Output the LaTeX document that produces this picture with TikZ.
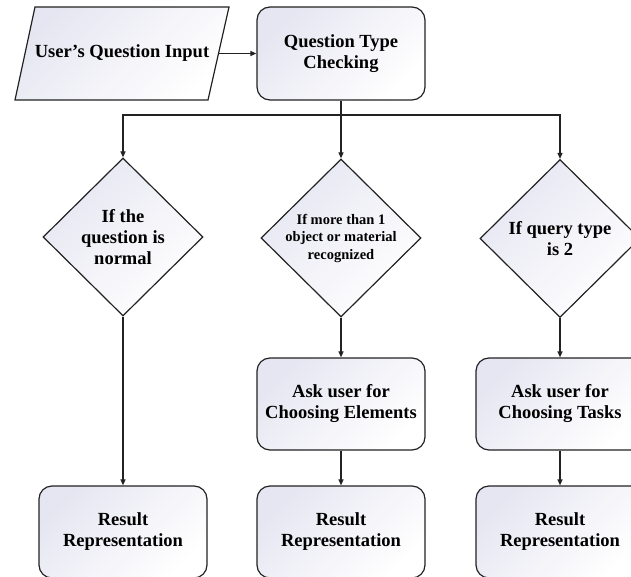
\documentclass[tikz,border=0pt]{standalone}
\usepackage{fontspec}
\setmainfont{Liberation Serif}
\usetikzlibrary{shapes.geometric,arrows.meta}
\definecolor{edgec}{HTML}{222222}
\definecolor{fillc}{HTML}{E6E6F2}
\begin{document}
\begin{tikzpicture}[x=1pt,y=-1pt,
  shapefill/.style={top color=fillc, bottom color=white, shading angle=45},
  box/.style={draw=edgec, line width=1.2pt, rounded corners=13pt, minimum width=168pt, minimum height=92pt, inner sep=0pt, align=center, shapefill, font=\bfseries\fontsize{18.5}{21}\selectfont},
  dia/.style={draw=edgec, line width=1.2pt, diamond, minimum width=160pt, minimum height=158pt, inner sep=0pt, shapefill},
  lbl/.style={align=center, inner sep=0pt, font=\bfseries\fontsize{18.5}{21}\selectfont},
  lblsmall/.style={align=center, inner sep=0pt, font=\bfseries\fontsize{14.5}{17.5}\selectfont},
  arr/.style={draw=edgec, line width=1.2pt, -{Triangle[length=6pt,width=5pt]}},
  ln/.style={draw=edgec, line width=1.2pt}]
\useasboundingbox (0,0) rectangle (631,577);
% input parallelogram
\shade[top color=fillc, bottom color=white, shading angle=45] (35,7) -- (229,7) -- (208,100) -- (15,100) -- cycle;
\draw[edgec, line width=1.2pt, line join=miter] (35,7) -- (229,7) -- (208,100) -- (15,100) -- cycle;
\node[lbl, minimum width=193pt, minimum height=93pt] (in) at (122,53.5) {User’s Question Input};
% question type checking
\node[box, minimum height=93pt] (q) at (341,53.5) {Question Type\\Checking};
% diamonds
\node[dia] (d1) at (123,237) {};
\node[lbl] (t1) at (d1) {If the\\question is\\normal};
\node[dia] (d2) at (341,238) {};
\node[lblsmall] (t2) at (d2) {If more than 1\\object or material\\recognized};
\node[dia] (d3) at (560,238.5) {};
\node[lbl] (t3) at (d3) {If query type\\is 2};
% ask boxes
\node[box] (a2) at (341,404) {Ask user for\\Choosing Elements};
\node[box] (a3) at (560,404) {Ask user for\\Choosing Tasks};
% result boxes
\node[box] (r1) at (123,532) {Result\\Representation};
\node[box] (r2) at (341,532) {Result\\Representation};
\node[box] (r3) at (560,532) {Result\\Representation};
% connectors
\coordinate (j) at (341,115);
\draw[arr] (in.east) -- (q.west);
\draw[arr] (q.south) -- (d2.north);
\draw[arr] (j) -| (d1.north);
\draw[arr] (j) -| (d3.north);
\draw[arr] (d1.south) -- (r1.north);
\draw[arr] (d2.south) -- (a2.north);
\draw[arr] (a2.south) -- (r2.north);
\draw[arr] (d3.south) -- (a3.north);
\draw[arr] (a3.south) -- (r3.north);
\end{tikzpicture}
\end{document}
